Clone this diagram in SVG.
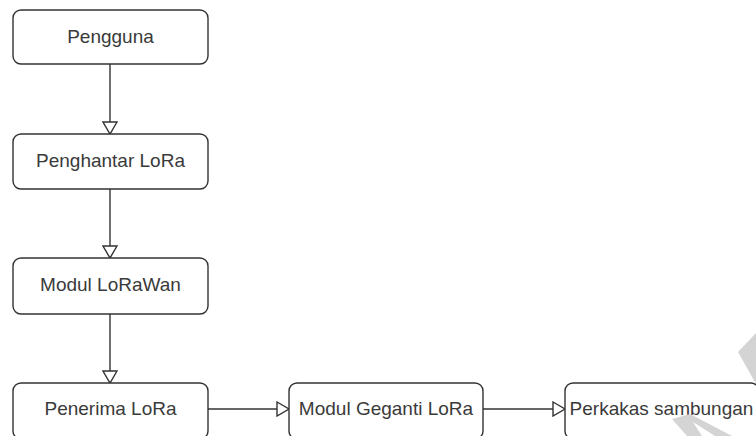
<svg xmlns="http://www.w3.org/2000/svg" width="756" height="436" viewBox="0 0 756 436">
<style>
.box{fill:#fff;stroke:#333;stroke-width:1.4}
.lbl{font-family:"Liberation Sans",Arial,sans-serif;font-size:19px;fill:#3a3a3a;text-anchor:middle}
.edge{fill:none;stroke:#333;stroke-width:1.4}
.wm{fill:#d4d4d4}
</style>
<defs>
<marker id="ah" markerUnits="userSpaceOnUse" markerWidth="16" markerHeight="16" refX="14" refY="8" orient="auto" viewBox="0 0 16 16">
<path d="M2,1 L14,8 L2,15 Z" fill="#fff" stroke="#333" stroke-width="1.4"/>
</marker>
</defs>
<rect width="756" height="436" fill="#fff"/>
<g id="connectors">
<line class="edge" x1="110" y1="64" x2="110" y2="134" marker-end="url(#ah)"/>
<line class="edge" x1="110" y1="189" x2="110" y2="258" marker-end="url(#ah)"/>
<line class="edge" x1="110" y1="314" x2="110" y2="383" marker-end="url(#ah)"/>
<line class="edge" x1="208" y1="409" x2="289" y2="409" marker-end="url(#ah)"/>
<line class="edge" x1="483" y1="409" x2="565" y2="409" marker-end="url(#ah)"/>
</g>
<g id="n1"><rect class="box" x="13" y="10" width="195" height="54" rx="8"/><text class="lbl" x="110.5" y="43">Pengguna</text></g>
<g id="n2"><rect class="box" x="13" y="134" width="195" height="55" rx="8"/><text class="lbl" x="110.5" y="167">Penghantar LoRa</text></g>
<g id="n3"><rect class="box" x="13" y="258" width="195" height="56" rx="8"/><text class="lbl" x="110.5" y="291">Modul LoRaWan</text></g>
<g id="n4"><rect class="box" x="13" y="383" width="195" height="56" rx="8"/><text class="lbl" x="110.5" y="415">Penerima LoRa</text></g>
<g id="n5"><rect class="box" x="289" y="383" width="194" height="56" rx="8"/><text class="lbl" x="386" y="415">Modul Geganti LoRa</text></g>
<g id="n6"><rect class="box" x="565" y="383" width="194" height="56" rx="8"/><text class="lbl" x="661.5" y="415">Perkakas sambungan</text></g>
<g id="watermark">
<polygon class="wm" points="738,352 756,333 756,384"/>
<polygon class="wm" points="672,419 690,414 732,436 715,436 693,422 702,436 687,436"/>
</g>
</svg>
